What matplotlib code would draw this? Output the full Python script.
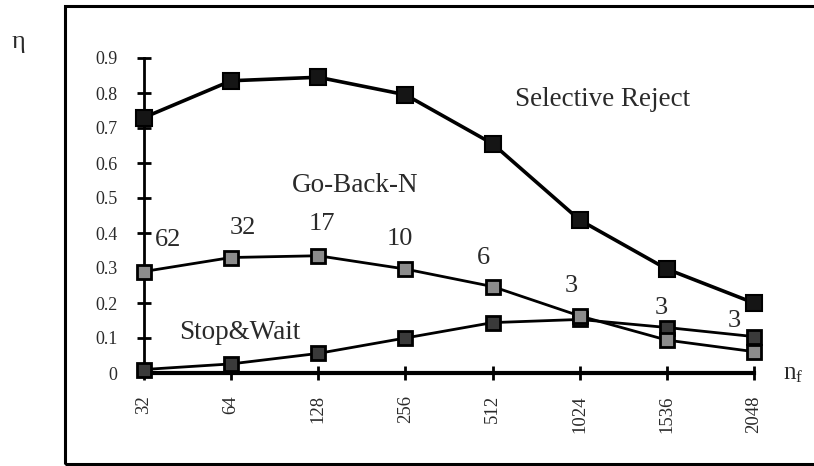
import matplotlib
matplotlib.use("Agg")
import matplotlib.pyplot as plt
from matplotlib.patches import Rectangle

plt.rcParams['font.family'] = ['Liberation Serif', 'DejaVu Serif']

categories = ['32', '64', '128', '256', '512', '1024', '1536', '2048']
selective_reject = [0.73, 0.835, 0.845, 0.795, 0.655, 0.437, 0.297, 0.200]
go_back_n = [0.290, 0.330, 0.335, 0.297, 0.247, 0.163, 0.094, 0.061]
stop_wait = [0.010, 0.026, 0.056, 0.100, 0.144, 0.153, 0.130, 0.104]
window_labels = ['62', '32', '17', '10', '6', '3', '3', '3']
window_pos = [(0.275, 0.380), (1.136, 0.414), (2.043, 0.426), (2.938, 0.383),
              (3.89, 0.329), (4.90, 0.249), (5.93, 0.186), (6.77, 0.149)]
yticks = [0, 0.1, 0.2, 0.3, 0.4, 0.5, 0.6, 0.7, 0.8, 0.9]
ytick_labels = ['0', '0.1', '0.2', '0.3', '0.4', '0.5', '0.6', '0.7', '0.8', '0.9']

W, H = 814, 466
fig = plt.figure(figsize=(W / 100, H / 100), dpi=100)
ax = fig.add_axes([144 / W, 1 - 373 / H, (754 - 144) / W, (373 - 58) / H])

x = list(range(len(categories)))
txt = '#2a2a2a'

ax.plot(x, stop_wait, color='black', lw=2.0, marker='s', ms=10,
        mfc='#3a3a3a', mec='black', mew=2.0, clip_on=False, zorder=3)
ax.plot(x, go_back_n, color='black', lw=2.0, marker='s', ms=10,
        mfc='#8c8c8c', mec='black', mew=2.0, clip_on=False, zorder=4)
ax.plot(x, selective_reject, color='black', lw=2.6, marker='s', ms=11,
        mfc='#151515', mec='black', mew=1.5, clip_on=False, zorder=5)

ax.set_xlim(0, len(categories) - 1)
ax.set_ylim(0, 0.9)
ax.set_xticks(x)
ax.set_xticklabels(categories, rotation=90, va='top', fontsize=13.5, color=txt)
ax.set_yticks(yticks)
ax.set_yticklabels(ytick_labels, fontsize=13, color=txt)

for s in ['top', 'right']:
    ax.spines[s].set_visible(False)
ax.spines['left'].set_linewidth(2.0)
ax.spines['bottom'].set_linewidth(3.0)
ax.tick_params(axis='y', direction='inout', length=10, width=2, pad=14)
ax.tick_params(axis='x', direction='inout', length=10, width=2, pad=11)

for lab, (px, py) in zip(window_labels, window_pos):
    ax.text(px, py, lab, ha='center', va='center', fontsize=19, color=txt)

ax.text(5.26, 0.78, 'Selective Reject', ha='center', va='center', fontsize=19.5, color=txt)
ax.text(2.42, 0.537, 'Go-Back-N', ha='center', va='center', fontsize=19.5, color=txt)
ax.text(1.10, 0.117, 'Stop&Wait', ha='center', va='center', fontsize=19.5, color=txt)

fig.text(18 / W, 1 - 42 / H, 'η', ha='center', va='center', fontsize=19, color=txt)
fig.text(793 / W, 1 - 374 / H, r'$\mathregular{n_f}$', ha='center', va='center',
         fontsize=18, color=txt)

frame = Rectangle((65 / W, 2 / H), 1.0, (464 - 6) / H, transform=fig.transFigure,
                  fill=False, edgecolor='black', lw=2.2, clip_on=False)
fig.patches.append(frame)

fig.savefig('out.png', dpi=100)
